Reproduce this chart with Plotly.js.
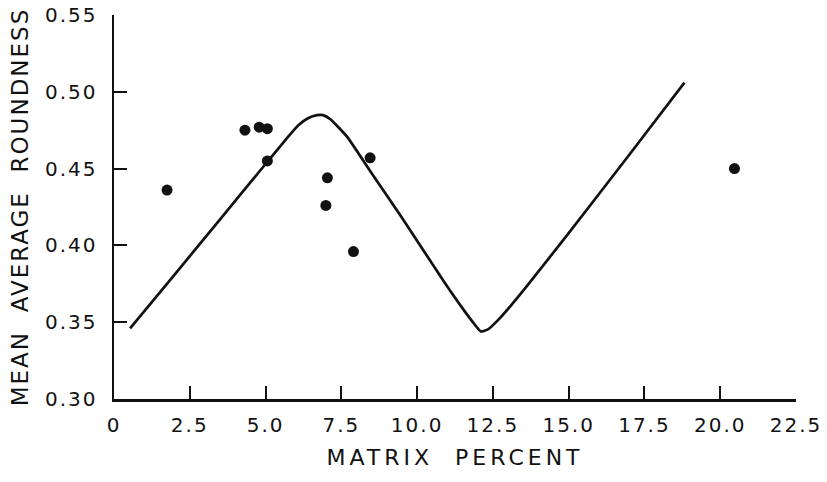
<!DOCTYPE html>
<html>
<head>
<meta charset="utf-8">
<script src="https://cdn.plot.ly/plotly-3.0.1.min.js"></script>
<style>
  html, body { margin: 0; padding: 0; background: #fff; }
  #chart { width: 827px; height: 482px; }
  .xtick text, .ytick text { letter-spacing: 2px; }
  .xtitle { letter-spacing: 4px; }
  .ytitle { letter-spacing: 2px; }
</style>
</head>
<body>
<div id="chart"></div>
<script>
// Observed samples (matrix percent vs mean average roundness)
const pointX = [1.75, 4.32, 4.79, 5.06, 5.06, 7.04, 6.99, 7.90, 8.45, 20.47];
const pointY = [0.436, 0.475, 0.477, 0.476, 0.455, 0.444, 0.426, 0.396, 0.457, 0.450];

// Fitted curve
const curveX = [0.53, 2.0, 3.5, 5.0, 5.8, 6.1, 6.4, 6.7, 6.9, 7.15, 7.4, 7.7, 8.5, 9.5, 10.9, 11.5, 11.9, 12.1, 12.35, 12.7, 13.1, 13.6, 15.0, 17.0, 18.82];
const curveY = [0.346, 0.381, 0.417, 0.453, 0.472, 0.4785, 0.4828, 0.4848, 0.4848, 0.482, 0.477, 0.4705, 0.447, 0.418, 0.376, 0.359, 0.3485, 0.344, 0.3455, 0.352, 0.361, 0.373, 0.408, 0.459, 0.506];

// Tick labels
const xTickVals = [0, 2.5, 5, 7.5, 10, 12.5, 15, 17.5, 20, 22.5];
const xTickText = ["0", "2.5", "5.0", "7.5", "10.0", "12.5", "15.0", "17.5", "20.0", "22.5"];
const yTickVals = [0.30, 0.35, 0.40, 0.45, 0.50, 0.55];
const yTickText = ["0.30", "0.35", "0.40", "0.45", "0.50", "0.55"];

const ink = "#111111";

const traces = [
  {
    x: curveX, y: curveY, type: "scatter", mode: "lines",
    line: { color: ink, width: 2.7, shape: "spline", smoothing: 0.5 },
    hoverinfo: "skip", showlegend: false
  },
  {
    x: pointX, y: pointY, type: "scatter", mode: "markers",
    marker: { color: ink, size: 11 },
    showlegend: false
  }
];

const layout = {
  width: 827, height: 482,
  margin: { l: 114, r: 31, t: 15, b: 83 },
  paper_bgcolor: "#ffffff", plot_bgcolor: "#ffffff",
  font: { family: "DejaVu Sans, sans-serif", color: ink },
  showlegend: false,
  xaxis: {
    range: [0, 22.5], showgrid: false, zeroline: false,
    showline: true, linecolor: ink, linewidth: 2.5,
    ticks: "inside", ticklen: 13, tickwidth: 2, tickcolor: ink,
    tickvals: xTickVals, ticktext: xTickText,
    tickfont: { size: 20, color: ink },
    ticklabelstandoff: 6,
    title: { text: "MATRIX  PERCENT", font: { size: 22, color: ink }, standoff: 14 }
  },
  yaxis: {
    range: [0.30, 0.55], showgrid: false, zeroline: false,
    showline: true, linecolor: ink, linewidth: 2.5,
    ticks: "inside", ticklen: 13, tickwidth: 2, tickcolor: ink,
    tickvals: yTickVals, ticktext: yTickText,
    tickfont: { size: 20, color: ink },
    ticklabelstandoff: 10,
    title: { text: "MEAN  AVERAGE  ROUNDNESS", font: { size: 23, color: ink }, standoff: 10 }
  }
};

Plotly.newPlot("chart", traces, layout, { staticPlot: true, displayModeBar: false });
</script>
</body>
</html>
